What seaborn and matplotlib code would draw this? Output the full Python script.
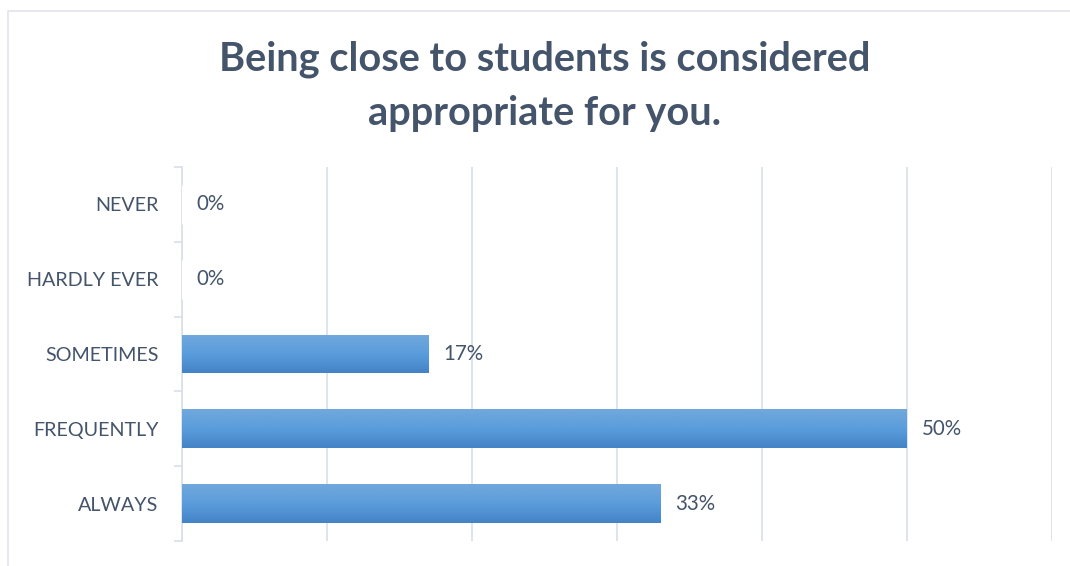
import numpy as np
import pandas as pd
import matplotlib
matplotlib.use("Agg")
import matplotlib.pyplot as plt
from matplotlib.colors import LinearSegmentedColormap
from matplotlib.patches import Rectangle
import seaborn as sns

categories = ["NEVER", "HARDLY EVER", "SOMETIMES", "FREQUENTLY", "ALWAYS"]
percentages = [0, 0, 17, 50, 33]
x_ticks = [0, 10, 20, 30, 40, 50, 60]
title_text = "Being close to students is considered\nappropriate for you."

TEXT = "#44546A"
GRID = "#DCE0E8"

sns.set_theme(style="white")
plt.rcParams["font.family"] = ["Lato", "DejaVu Sans"]

df = pd.DataFrame({"answer": categories, "pct": percentages})

fig = plt.figure(figsize=(10.70, 5.66), dpi=100)
ax = fig.add_axes([182 / 1070, 25 / 566, 870 / 1070, 374 / 566])

sns.barplot(data=df, x="pct", y="answer", order=categories, orient="h",
            color="#5B9BD5", width=0.52, ax=ax, zorder=3)

# vertical gradient fill for each bar: lighter at the top, deeper at the bottom
grad = LinearSegmentedColormap.from_list("bar", ["#72A8DC", "#5A9DDC", "#4383C6"])
gimg = np.linspace(0, 1, 256).reshape(-1, 1)
for p in ax.patches:
    w = p.get_width()
    if w <= 0:
        continue
    x0, y0 = p.get_x(), p.get_y()
    h = p.get_height()
    p.set_facecolor("none")
    p.set_edgecolor("none")
    im = ax.imshow(gimg, cmap=grad, aspect="auto",
                   extent=(x0, x0 + w, y0 + h, y0), origin="upper",
                   zorder=3, interpolation="bilinear")
    im.set_clip_path(p)

# value labels
for i, v in enumerate(percentages):
    ax.annotate(f"{v}%", xy=(v, i), xytext=(10.5, 0), textcoords="offset points",
                ha="left", va="center", fontsize=14.8, color=TEXT)

ax.set_xlim(0, 60)
ax.set_ylim(len(categories) - 0.5, -0.5)
ax.set_xticks(x_ticks)
ax.set_xticklabels([])
ax.tick_params(axis="x", length=0)
ax.grid(axis="x", color=GRID, linewidth=1.3, zorder=0)
ax.grid(axis="y", visible=False)
ax.set_axisbelow(True)

ax.set_yticks(range(len(categories)))
ax.set_yticklabels(categories)
ax.set_yticks(np.arange(-0.5, len(categories), 1.0), minor=True)
ax.tick_params(axis="y", which="major", length=0, pad=17, labelsize=14.2, labelcolor=TEXT)
ax.tick_params(axis="y", which="minor", length=5.5, width=1.3, color=GRID, direction="out", left=True)
ax.set_xlabel("")
ax.set_ylabel("")

for s in ["top", "right", "bottom"]:
    ax.spines[s].set_visible(False)
ax.spines["left"].set_color(GRID)
ax.spines["left"].set_linewidth(1.3)

fig.text(545 / 1070, 1 - 86 / 566, title_text, ha="center", va="center",
         fontsize=28.6, fontweight="bold", color=TEXT, linespacing=1.55)

# chart-area frame
fig.patches.append(Rectangle((7.5 / 1070, -0.01), 1.02, 1 - 10.5 / 566 + 0.01,
                             transform=fig.transFigure, fill=False,
                             edgecolor="#E1E4EA", linewidth=1.2))

fig.savefig("out.png", dpi=100)
